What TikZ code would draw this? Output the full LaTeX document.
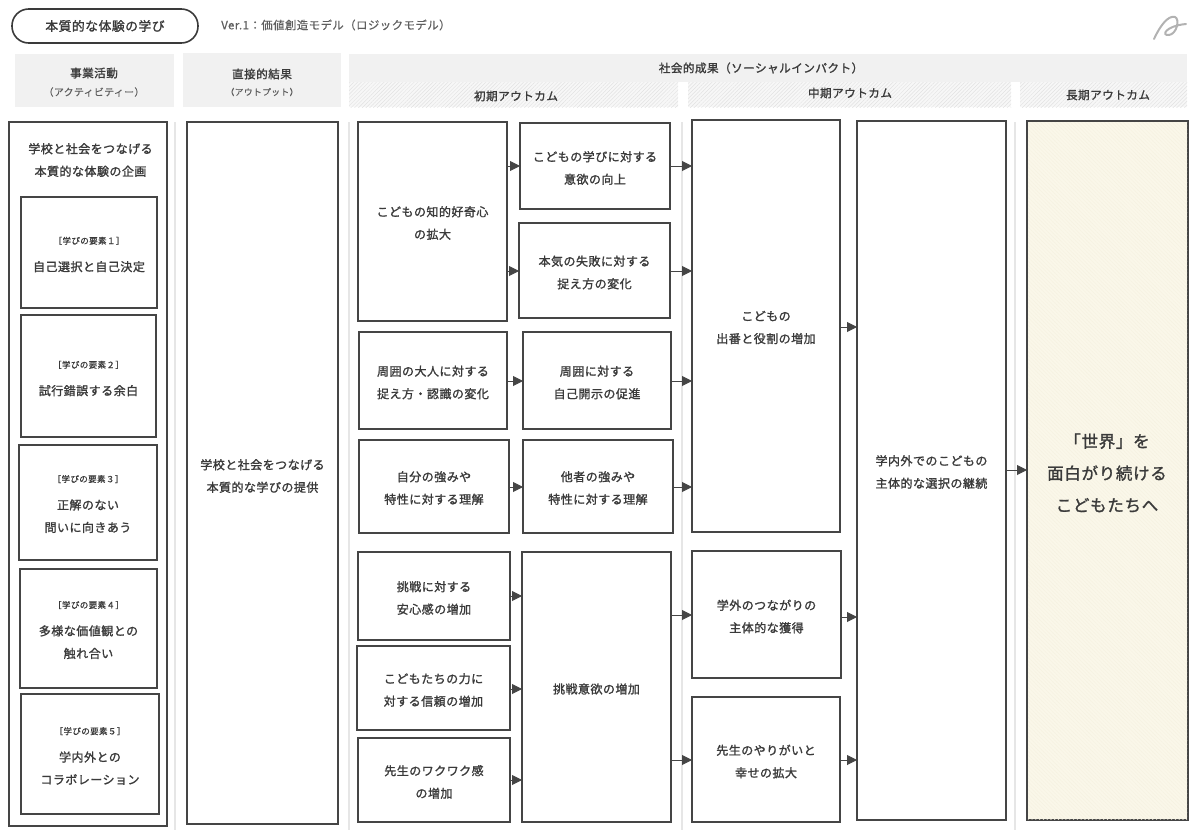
\documentclass[tikz,border=0pt]{standalone}
\usepackage{fontspec}
\setmainfont[LetterSpace=4,FakeBold=1.4]{Noto Sans CJK JP}
\newfontfamily\lightjp[LetterSpace=4,FakeBold=0.5]{Noto Sans CJK JP}
\usetikzlibrary{arrows.meta,patterns.meta}
\definecolor{ink}{HTML}{3A3A3A}
\definecolor{frame}{HTML}{454545}
\definecolor{softtxt}{HTML}{5E5E5E}
\definecolor{headbg}{HTML}{F1F1F1}
\definecolor{hatch}{HTML}{E2E2E2}
\definecolor{cream}{HTML}{FAF7E9}
\definecolor{creamline}{HTML}{F6F2E1}
\definecolor{sep}{HTML}{E6E6E6}
\tikzset{
  boxsty/.style={draw=frame,line width=1.35pt,fill=white,inner sep=0pt,outer sep=0pt},
  txtsty/.style={text=ink,align=center,inner sep=0pt,font=\fontsize{9}{16.9}\selectfont},
  headtxt/.style={text=ink,align=center,inner sep=0pt,font=\fontsize{8.7}{12}\selectfont},
  subtxt/.style={text=softtxt,align=center,inner sep=0pt},
  headbox/.style={fill=headbg,draw=none},
  headhatch/.style={pattern={Lines[angle=45,distance=2pt,line width=.35pt]},pattern color=hatch},
  arrline/.style={draw=frame,line width=.7pt,-{Triangle[length=7.5pt,width=7.5pt]}},
  sepline/.style={draw=sep,line width=.8pt},
}
\newcommand{\bx}[7]{%
  \node[boxsty,minimum width={(#4-#2)*.75pt},minimum height={(#5-#3)*.75pt}] (#1) at ({(#2+#4)/2},{(#3+#5)/2}) {};
  \node[txtsty] (#1t) at ({(#2+#4)/2},#6) {#7};}
\newcommand{\arr}[3]{%
  \coordinate (ay) at (0,#3);
  \draw[arrline] (#1.east |- ay) -- (#2.west |- ay);}
\newcommand{\elem}[1]{{\fontsize{6.4}{9}\selectfont\lightjp［学びの要素#1］}\\[3.5pt]}
\begin{document}
\begin{tikzpicture}[x=.75pt,y=-.75pt]
\useasboundingbox (0,0) rectangle (1200,832);
% title
\node[draw=ink,line width=1.2pt,rounded corners=12.5pt,minimum width=139.5pt,minimum height=25.5pt,inner sep=0pt,text=ink,font=\fontsize{9.6}{12}\selectfont] (title) at (105,26) {本質的な体験の学び};
\node[anchor=west,inner sep=0pt,text=softtxt,font=\fontsize{8.55}{12}\selectfont\lightjp] (ver) at (221,25) {Ver.1：価値創造モデル（ロジックモデル）};
% logo
\draw[draw=black!30,line width=1.5pt,line cap=round] (1154,39) .. controls (1160,26) and (1168,15) .. (1175,17) .. controls (1180,19) and (1177,34) .. (1169,35) .. controls (1161,36) and (1165,26) .. (1186,24);
% headers
\path[headbox] (15,54) rectangle (174,107);
\path[headbox] (183,53) rectangle (341,107);
\path[headbox] (349,54) rectangle (1187,107);
\path[fill=white] (349,82) rectangle (1187,107);
\path[fill=headbg!60] (349,82) rectangle (678,107);
\path[fill=headbg!60] (688,82) rectangle (1011,107);
\path[fill=headbg!60] (1020,82) rectangle (1187,107);
\path[headhatch] (349,82) rectangle (678,107);
\path[headhatch] (688,82) rectangle (1011,107);
\path[headhatch] (1020,82) rectangle (1187,107);
\node[headtxt] (h1) at (94,73) {事業活動};
\node[subtxt,font=\fontsize{7.4}{10}\selectfont\lightjp] (h1s) at (94,92) {（アクティビティー）};
\node[headtxt] (h2) at (262,74) {直接的結果};
\node[subtxt,font=\fontsize{6.6}{10}\selectfont\lightjp] (h2s) at (262,92) {（アウトプット）};
\node[headtxt] (h3) at (761,68) {社会的成果（ソーシャルインパクト）};
\node[headtxt] (h4) at (516,96) {初期アウトカム};
\node[headtxt] (h5) at (850,93) {中期アウトカム};
\node[headtxt] (h6) at (1108,95) {長期アウトカム};
% separators
\draw[sepline] (175,122) -- (175,830);
\draw[sepline] (349,122) -- (349,830);
\draw[sepline] (682,122) -- (682,830);
\draw[sepline] (1015,122) -- (1015,830);
% activity column
\bx{act}{9}{122}{167}{826}{160}{}
\node[txtsty] (actt2) at (90.5,160) {学校と社会をつなげる\\本質的な体験の企画};
\bx{e1}{21}{197}{157}{308}{254.5}{\elem{１}自己選択と自己決定}
\bx{e2}{21}{315}{156}{437}{378.5}{\elem{２}試行錯誤する余白}
\bx{e3}{19}{445}{157}{560}{504}{\elem{３}正解のない\\問いに向きあう}
\bx{e4}{20}{569}{157}{688}{630}{\elem{４}多様な価値観との\\触れ合い}
\bx{e5}{21}{694}{159}{814}{756}{\elem{５}学内外との\\コラボレーション}
% output
\bx{out}{187}{122}{338}{824}{476}{学校と社会をつなげる\\本質的な学びの提供}
% early
\bx{b1}{358}{122}{507}{321}{223}{こどもの知的好奇心\\の拡大}
\bx{b2}{520}{123}{670}{209}{168}{こどもの学びに対する\\意欲の向上}
\bx{b3}{519}{223}{670}{318}{272.5}{本気の失敗に対する\\捉え方の変化}
\bx{b4}{359}{332}{507}{429}{382.5}{周囲の大人に対する\\捉え方・認識の変化}
\bx{b5}{523}{332}{671}{429}{382.5}{周囲に対する\\自己開示の促進}
\bx{b6}{359}{440}{509}{533}{488}{自分の強みや\\特性に対する理解}
\bx{b7}{523}{440}{673}{533}{488}{他者の強みや\\特性に対する理解}
\bx{b8}{358}{552}{510}{640}{598}{挑戦に対する\\安心感の増加}
\bx{b9}{357}{646}{510}{730}{690}{こどもたちの力に\\対する信頼の増加}
\bx{b10}{358}{738}{510}{822}{782}{先生のワクワク感\\の増加}
\bx{b11}{522}{552}{671}{822}{689}{挑戦意欲の増加}
% mid
\bx{m1}{692}{120}{840}{532}{327.5}{こどもの\\出番と役割の増加}
\bx{m2}{692}{551}{841}{678}{616.5}{学外のつながりの\\主体的な獲得}
\bx{m3}{692}{697}{840}{822}{761.5}{先生のやりがいと\\幸せの拡大}
\bx{m4}{857}{121}{1006}{820}{472}{学内外でのこどもの\\主体的な選択の継続}
% long
\node[boxsty,fill=cream,minimum width={161*.75pt},minimum height={699*.75pt}] (lg) at (1107.5,470.5) {};
\path[pattern={Lines[angle=-45,distance=2pt,line width=.35pt]},pattern color=creamline] (1028,122) rectangle (1187,819);
\node[text=ink,align=center,inner sep=0pt,font=\fontsize{12.4}{24}\selectfont] (lgt) at (1107,473) {「世界」を\\面白がり続ける\\こどもたちへ};
% arrows
\arr{b1}{b2}{166}
\arr{b1}{b3}{271}
\arr{b2}{m1}{166}
\arr{b3}{m1}{271}
\arr{b4}{b5}{381}
\arr{b5}{m1}{381}
\arr{b6}{b7}{487}
\arr{b7}{m1}{487}
\arr{m1}{m4}{327}
\arr{b8}{b11}{596}
\arr{b9}{b11}{689}
\arr{b10}{b11}{780}
\arr{b11}{m2}{615}
\arr{b11}{m3}{760}
\arr{m2}{m4}{617}
\arr{m3}{m4}{760}
\arr{m4}{lg}{470}
\end{tikzpicture}
\end{document}
